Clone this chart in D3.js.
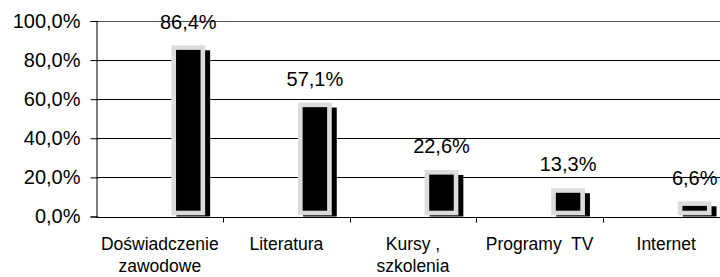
<!DOCTYPE html>
<html>
<head>
<meta charset="utf-8">
<script src="https://cdn.jsdelivr.net/npm/d3@7"></script>
<style>
  body { margin: 0; background: #fff; }
  svg { display: block; font-family: "Liberation Sans", Arial, sans-serif; }
</style>
</head>
<body>
<svg id="chart" width="720" height="277"></svg>
<script>
// data
var categories = ["Doświadczenie zawodowe", "Literatura", "Kursy , szkolenia", "Programy  TV", "Internet"];
var labelLines = [["Doświadczenie", "zawodowe"], ["Literatura"], ["Kursy ,", "szkolenia"], ["Programy  TV"], ["Internet"]];
var values = [0.864, 0.571, 0.226, 0.133, 0.066];
var yTicks = [0, 0.2, 0.4, 0.6, 0.8, 1.0];

var svg = d3.select("#chart");

var plotLeft = 96.5, plotRight = 729.5, plotTop = 21, plotBottom = 216.5;

var x = d3.scaleBand().domain(categories).range([plotLeft, plotRight]).padding(0);
var y = d3.scaleLinear().domain([0, 1]).range([plotBottom, plotTop]);

var fmt = function (v) { return d3.format(".1f")(v * 100).replace(".", ",") + "%"; };

// gridlines
svg.append("g").selectAll("line")
    .data(yTicks.filter(function (t) { return t > 0; }))
    .enter().append("line")
    .attr("x1", plotLeft).attr("x2", 720)
    .attr("y1", function (d) { return Math.round(y(d)) + 0.5; })
    .attr("y2", function (d) { return Math.round(y(d)) + 0.5; })
    .attr("stroke", function (d) { return d === 1 ? "#555" : "#000"; })
    .attr("stroke-width", 1);

// y axis
var yAxis = d3.axisLeft(y).tickValues(yTicks).tickFormat(fmt).tickSize(6).tickPadding(10);
var gy = svg.append("g").attr("transform", "translate(" + plotLeft + ",0)").call(yAxis);
gy.select(".domain").attr("stroke", "#000");
gy.selectAll(".tick line").attr("stroke", "#000").attr("x2", -6).attr("x1", 2);
gy.selectAll(".tick text")
    .attr("font-size", "20px")
    .attr("font-family", "Liberation Sans, Arial, sans-serif")
    .attr("fill", "#000");

var bw = x.bandwidth();
var barX = function (d, i) { return x(categories[i]) + bw * 0.61; };
var barW = bw * 0.23;
var stroke = 4.6;
var shift = 5;

// shadow bars (black, offset down-right)
svg.append("g").selectAll("rect")
    .data(values)
    .enter().append("rect")
    .attr("x", function (d, i) { return barX(d, i) - stroke / 2 + shift; })
    .attr("y", function (d) { return y(d) - stroke / 2 + shift; })
    .attr("width", barW + stroke)
    .attr("height", function (d) { return plotBottom - y(d) + stroke / 2 - shift; })
    .attr("fill", "#000");

// main bars, black with light grey border
svg.append("g").selectAll("rect")
    .data(values)
    .enter().append("rect")
    .attr("x", function (d, i) { return barX(d, i); })
    .attr("y", function (d) { return y(d); })
    .attr("width", barW)
    .attr("height", function (d) { return plotBottom - y(d) - 3.5; })
    .attr("fill", "#000")
    .attr("stroke", "#dcdcdc")
    .attr("stroke-width", stroke);

// x axis
var xAxis = d3.axisBottom(x).tickSize(5).tickFormat("");
var gx = svg.append("g").attr("transform", "translate(0," + (Math.round(plotBottom) + 0.5) + ")").call(xAxis);
gx.select(".domain").attr("stroke", "#000").attr("d", "M" + plotLeft + ",0H720");
gx.selectAll(".tick").remove();
gx.selectAll(".cat-tick")
    .data(categories.slice(1))
    .enter().append("line")
    .attr("x1", function (d) { return Math.round(x(d)) + 0.5; })
    .attr("x2", function (d) { return Math.round(x(d)) + 0.5; })
    .attr("y1", 0).attr("y2", 5)
    .attr("stroke", "#000");

// category labels
var cats = svg.append("g").selectAll("text")
    .data(labelLines)
    .enter().append("text")
    .attr("text-anchor", "middle")
    .attr("font-size", "17.5px")
    .attr("fill", "#000")
    .attr("x", function (d, i) { return x(categories[i]) + bw / 2; })
    .attr("y", 250);
cats.each(function (lines, i) {
    var t = d3.select(this);
    lines.forEach(function (line, j) {
        t.append("tspan")
            .attr("x", x(categories[i]) + bw / 2)
            .attr("dy", j === 0 ? 0 : 21.5)
            .attr("xml:space", "preserve")
            .style("white-space", "pre")
            .text(line);
    });
});

// value labels
svg.append("g").selectAll("text")
    .data(values)
    .enter().append("text")
    .attr("text-anchor", "middle")
    .attr("font-size", "20px")
    .attr("fill", "#000")
    .attr("x", function (d, i) { return barX(d, i) + barW / 2; })
    .attr("y", function (d) { return y(d) - 19; })
    .text(fmt);
</script>
</body>
</html>
